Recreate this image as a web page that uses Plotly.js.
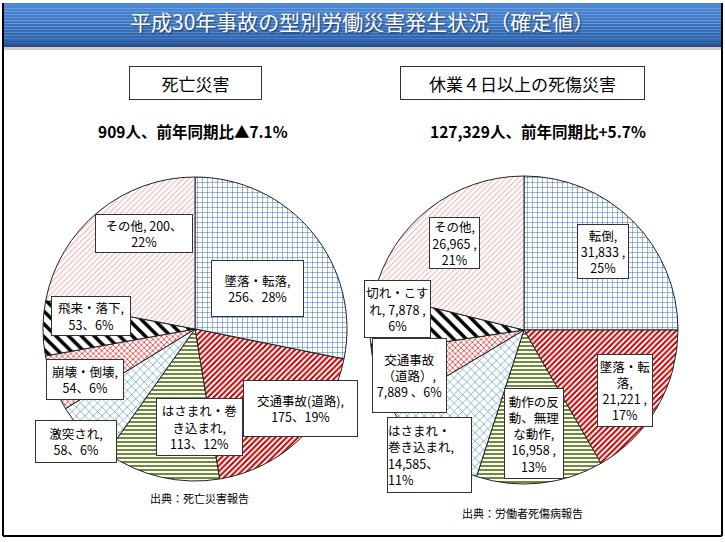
<!DOCTYPE html>
<html>
<head>
<meta charset="utf-8">
<script src="https://cdn.plot.ly/plotly-3.0.1.min.js"></script>
<style>html,body{margin:0;padding:0;background:#fff}</style>
</head>
<body>
<div id="chart" style="width:725px;height:542px"></div>
<script>
// ---- data ----
const leftCategories = ['墜落・転落','交通事故(道路)','はさまれ・巻き込まれ','激突され','崩壊・倒壊','飛来・落下','その他'];
const leftValues = [256,175,113,58,54,53,200];
const leftLabelTemplates = [
  '墜落・転落,<br>{v}、{p}%',
  '交通事故(道路),<br>{v}、{p}%',
  'はさまれ・巻<br>き込まれ,<br>{v}、{p}%',
  '激突され,<br>{v}、{p}%',
  '崩壊・倒壊,<br>{v}、{p}%',
  '飛来・落下,<br>{v}、{p}%',
  'その他, {v}、<br>{p}%'
];
const rightCategories = ['転倒','墜落・転落','動作の反動、無理な動作','はさまれ・巻き込まれ','交通事故（道路）','切れ・こすれ','その他'];
const rightValues = [31833,21221,16958,14585,7889,7878,26965];
const rightLabelTemplates = [
  '転倒,<br>{v} ,<br>{p}%',
  '墜落・転<br>落,<br>{v} ,<br>{p}%',
  '動作の反<br>動、無理<br>な動作,<br>{v} ,<br>{p}%',
  'はさまれ・<br>巻き込まれ,<br>{v}、<br>{p}%',
  '交通事故<br>（道路）,<br>{v} 、{p}%',
  '切れ・こす<br>れ, {v} ,<br>{p}%',
  'その他,<br>{v} ,<br>{p}%'
];
const mainTitle = '平成30年事故の型別労働災害発生状況（確定値）';
const leftHeader = '死亡災害';
const rightHeader = '休業４日以上の死傷災害';
const leftSummary = '909人、前年同期比▲7.1%';
const rightSummary = '127,329人、前年同期比+5.7%';
const leftSource = '出典：死亡災害報告';
const rightSource = '出典：労働者死傷病報告';

// ---- styles (pattern per slice type) ----
const P = {
  grid:   {shape:'+',  fg:'#3F74B8', size:5, sol:0.2},
  redd:   {shape:'/',  fg:'#C00000', size:4, sol:0.5},
  green:  {shape:'-',  fg:'#6E8B35', size:4, sol:0.5},
  teal:   {shape:'x',  fg:'#31859C', size:6, sol:0.18},
  zig:    {shape:'x',  fg:'#E00000', size:4, sol:0.3},
  black:  {shape:'\\', fg:'#000000', size:9, sol:0.4},
  pink:   {shape:'/',  fg:'#E8AFAF', size:4, sol:0.25}
};
const leftStyle = ['grid','redd','green','teal','zig','black','pink'];
const rightStyle = ['grid','redd','green','teal','zig','black','pink'];

// label box positions in px: [cx, cy, w, h, align]
const leftBoxes = [
  [257,288,93,57,'center'],
  [300,408,115,57,'center'],
  [199,427,87,58,'center'],
  [76,441,82,43,'center'],
  [85,379,78,41,'center'],
  [91,316,80,40,'center'],
  [144,234,98,39,'center']
];
const rightBoxes = [
  [603,252,52,55,'center'],
  [625,390,56,73,'center'],
  [534,433,60,91,'center'],
  [429,455,85,76,'left'],
  [409,375,75,75,'center'],
  [397,309,67,58,'center'],
  [454,243,51,52,'center']
];

const W = 725, H = 542;
const px = x => x / W;
const py = y => 1 - y / H;
const FONT = '"Noto Sans CJK JP", "Noto Sans", sans-serif';

function fmt(n){ return n.toLocaleString('en-US'); }
function pct(vals, i){ const s = vals.reduce((a,b)=>a+b,0); return Math.round(vals[i]/s*100); }

function pieTrace(cats, vals, style, dom){
  return {
    type:'pie', labels:cats, values:vals, sort:false, direction:'clockwise', rotation:0,
    textinfo:'none', hoverinfo:'label+value+percent', showlegend:false,
    domain:dom,
    marker:{
      colors: cats.map(()=> '#ffffff'),
      line:{color:'#222222', width:1},
      pattern:{
        shape: style.map(k=>P[k].shape),
        fgcolor: style.map(k=>P[k].fg),
        bgcolor: style.map(()=> '#ffffff'),
        size: style.map(k=>P[k].size),
        solidity: style.map(k=>P[k].sol),
        fillmode:'replace'
      }
    }
  };
}

const traces = [
  pieTrace(leftCategories, leftValues, leftStyle, {x:[px(43), px(347)], y:[py(482), py(176)]}),
  pieTrace(rightCategories, rightValues, rightStyle, {x:[px(370), px(678)], y:[py(484), py(176)]})
];

const annotations = [];
function addLabels(templates, vals, boxes){
  templates.forEach((t,i)=>{
    const b = boxes[i];
    annotations.push({
      xref:'paper', yref:'paper', x:px(b[0]), y:py(b[1]), xanchor:'center', yanchor:'middle',
      text: t.replace('{v}', fmt(vals[i])).replace('{p}', pct(vals,i)),
      showarrow:false, align:b[4], width:b[2]-2, height:b[3]-2,
      bgcolor:'#ffffff', bordercolor:'#333333', borderwidth:1, borderpad:0,
      font:{family:FONT, size:12.5, color:'#000'}
    });
  });
}
addLabels(leftLabelTemplates, leftValues, leftBoxes);
addLabels(rightLabelTemplates, rightValues, rightBoxes);

// title
annotations.push({xref:'paper', yref:'paper', x:px(362), y:py(21), xanchor:'center', yanchor:'middle',
  text:mainTitle, showarrow:false,
  font:{family:FONT, size:21, color:'#ffffff', shadow:'1px 1px 2px #1a3560'}});
// headers
annotations.push({xref:'paper', yref:'paper', x:px(195.5), y:py(83), xanchor:'center', yanchor:'middle',
  text:leftHeader, showarrow:false, width:131, height:32, bgcolor:'#fff', bordercolor:'#333', borderwidth:1, borderpad:0,
  font:{family:FONT, size:17, color:'#000'}});
annotations.push({xref:'paper', yref:'paper', x:px(522.5), y:py(83), xanchor:'center', yanchor:'middle',
  text:rightHeader, showarrow:false, width:243, height:32, bgcolor:'#fff', bordercolor:'#333', borderwidth:1, borderpad:0,
  font:{family:FONT, size:17, color:'#000'}});
// summaries
annotations.push({xref:'paper', yref:'paper', x:px(193), y:py(131), xanchor:'center', yanchor:'middle',
  text:'<b>'+leftSummary+'</b>', showarrow:false, font:{family:FONT, size:15.5, color:'#000'}});
annotations.push({xref:'paper', yref:'paper', x:px(538), y:py(131), xanchor:'center', yanchor:'middle',
  text:'<b>'+rightSummary+'</b>', showarrow:false, font:{family:FONT, size:15.5, color:'#000'}});
// sources
annotations.push({xref:'paper', yref:'paper', x:px(199), y:py(498), xanchor:'center', yanchor:'middle',
  text:leftSource, showarrow:false, font:{family:FONT, size:11, color:'#000'}});
annotations.push({xref:'paper', yref:'paper', x:px(522), y:py(513), xanchor:'center', yanchor:'middle',
  text:rightSource, showarrow:false, font:{family:FONT, size:11, color:'#000'}});

// title band gradient (stacked strips) + frame
const shapes = [];
const bandTop = 3, bandBot = 44, nStrips = 14;
for (let i=0;i<nStrips;i++){
  const t = i/(nStrips-1);
  const c0 = [78,138,214], c1 = [43,96,172];
  const c = c0.map((v,k)=>Math.round(v+(c1[k]-v)*t));
  shapes.push({type:'rect', xref:'paper', yref:'paper', layer:'below',
    x0:px(3), x1:px(722), y0:py(bandTop+(bandBot-bandTop)*(i+1)/nStrips), y1:py(bandTop+(bandBot-bandTop)*i/nStrips),
    line:{width:0}, fillcolor:`rgb(${c.join(',')})`});
}
shapes.push({type:'rect', xref:'paper', yref:'paper', layer:'below', x0:px(3), x1:px(722), y0:py(47), y1:py(44), line:{width:0}, fillcolor:'#2a4f86'});
shapes.push({type:'rect', xref:'paper', yref:'paper', layer:'below', x0:px(3), x1:px(722), y0:py(50), y1:py(47), line:{width:0}, fillcolor:'#cfcfcf'});
shapes.push({type:'line', xref:'paper', yref:'paper', x0:px(3), x1:px(3), y0:py(3), y1:py(536), line:{color:'#000', width:2}});
shapes.push({type:'line', xref:'paper', yref:'paper', x0:px(722), x1:px(722), y0:py(3), y1:py(536), line:{color:'#000', width:2}});
shapes.push({type:'line', xref:'paper', yref:'paper', x0:px(3), x1:px(722), y0:py(536), y1:py(536), line:{color:'#000', width:2}});

const layout = {
  width:W, height:H, margin:{l:0,r:0,t:0,b:0},
  paper_bgcolor:'#ffffff', plot_bgcolor:'#ffffff',
  annotations, shapes, showlegend:false,
  font:{family:FONT}
};
Plotly.newPlot('chart', traces, layout, {displayModeBar:false, staticPlot:true});
</script>
</body>
</html>
